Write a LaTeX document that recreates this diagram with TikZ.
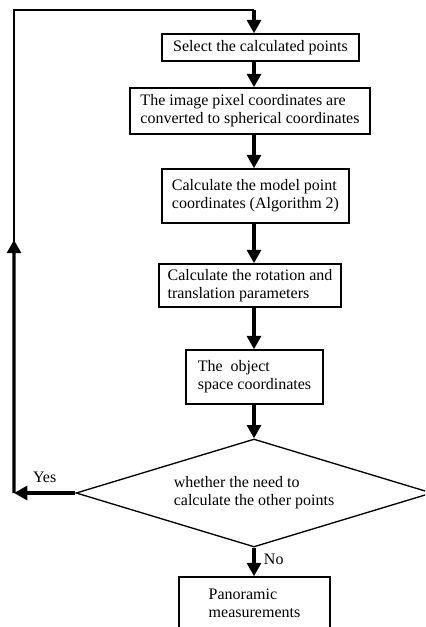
\documentclass[tikz,border=0pt]{standalone}
\usepackage{fontspec}
\setmainfont{Liberation Serif}
\usetikzlibrary{calc,arrows.meta,shapes.geometric}
\tikzset{
  wire/.style={line width=2.3pt},
  thinwire/.style={line width=1.6pt},
  flow/.style={wire, -{Triangle[length=10pt,width=10.5pt]}},
  box/.style={draw, line width=1.2pt, fill=white, align=left, inner sep=0pt, font=\fontsize{12}{13.5}\selectfont},
  decide/.style={draw, line width=1pt, diamond, aspect=3.3, inner sep=0pt, align=left, font=\fontsize{12}{13.5}\selectfont},
  lbl/.style={font=\fontsize{12}{13.5}\selectfont}
}
\begin{document}
\begin{tikzpicture}[x=0.75pt,y=-0.75pt]
  \useasboundingbox (0,0) rectangle (425,627);
  \clip (0,0) rectangle (425,627);
  % steps
  \node[box, minimum width=197*0.75pt, minimum height=27*0.75pt] (sel) at (260.5,47.5) {Select the calculated points};
  \node[box, minimum width=240*0.75pt, minimum height=46*0.75pt] (conv) at (250,111) {The image pixel coordinates are\\converted to spherical coordinates};
  \node[box, minimum width=187*0.75pt, minimum height=54*0.75pt] (model) at (255.5,196) {Calculate the model point\\coordinates (Algorithm 2)};
  \node[box, minimum width=182*0.75pt, minimum height=43*0.75pt] (rot) at (250,285.5) {Calculate the rotation and\\translation parameters};
  \node[box, minimum width=137*0.75pt, minimum height=54*0.75pt] (obj) at (254.5,377) {The\ \ object\\space coordinates};
  \node[decide, minimum width=356*0.75pt, minimum height=108*0.75pt] (need) at (254,493) {whether the need to\\calculate the other points};
  \node[box, minimum width=151*0.75pt, minimum height=52*0.75pt] (pano) at (254.5,603) {Panoramic\\measurements};
  % loop corners
  \coordinate (top) at (254,10);
  \coordinate (corner) at (14,10);
  \coordinate (back) at (14,493);
  % arrows
  \draw[flow] (top) -- (sel.north -| top);
  \draw[flow] (sel.south -| top) -- (conv.north -| top);
  \draw[flow] (conv.south -| top) -- (model.north -| top);
  \draw[flow] (model.south -| top) -- (rot.north -| top);
  \draw[flow] (rot.south -| top) -- (obj.north -| top);
  \draw[flow] (obj.south -| top) -- (need.north);
  \draw[flow] (need.south) -- (pano.north -| top) node[lbl, pos=0.4, right=3pt] {No};
  \draw[flow] (need.west) -- (back) node[lbl, pos=0.5, above=3pt] {Yes};
  \draw[thinwire] (back) -- (corner) -- (top);
  \draw[flow] (back) -- ($(back)!0.524!(corner)$);
\end{tikzpicture}
\end{document}
